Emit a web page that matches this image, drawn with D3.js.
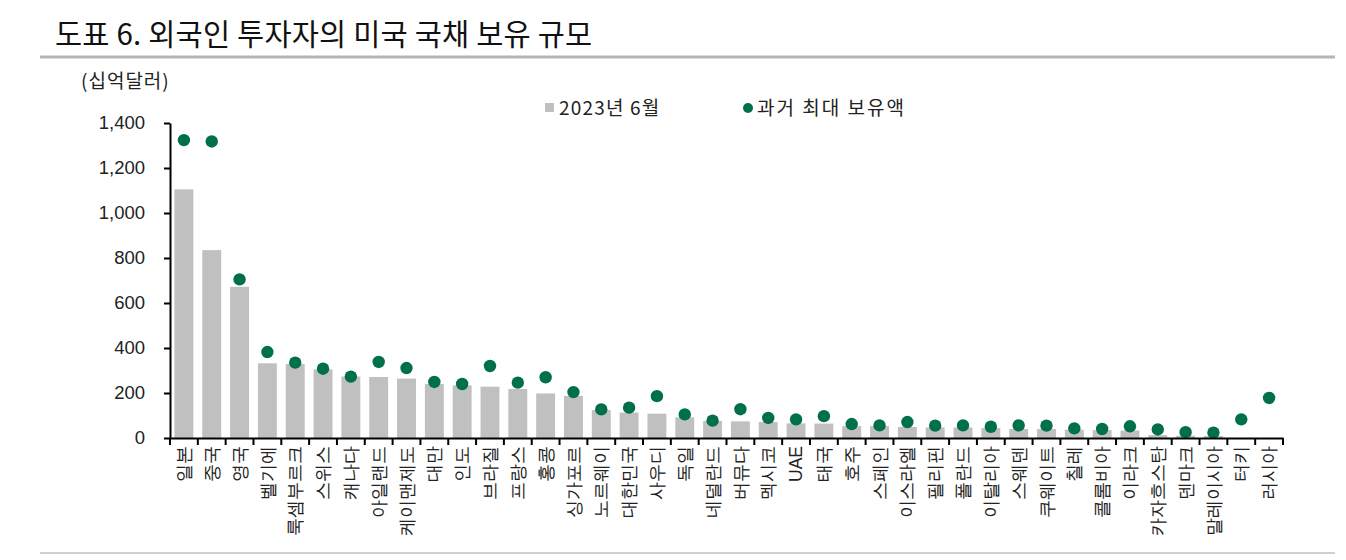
<!DOCTYPE html>
<html>
<head>
<meta charset="utf-8">
<script src="https://cdn.jsdelivr.net/npm/d3@7/dist/d3.min.js"></script>
<style>
  html, body { margin: 0; padding: 0; background: #fff; }
  svg { display: block; font-family: "Noto Sans CJK KR", "Noto Sans", sans-serif; }
</style>
</head>
<body>
<svg id="chart" width="1346" height="560"></svg>
<script>
const categories = ["일본","중국","영국","벨기에","룩셈부르크","스위스","캐나다","아일랜드","케이맨제도","대만","인도","브라질","프랑스","홍콩","싱가포르","노르웨이","대한민국","사우디","독일","네덜란드","버뮤다","멕시코","UAE","태국","호주","스페인","이스라엘","필리핀","폴란드","이탈리아","스웨덴","쿠웨이트","칠레","콜롬비아","이라크","카자흐스탄","덴마크","말레이시아","터키","러시아"];
const holdings2023 = [1105,835,672,332,329,305,273,271,264,240,234,228,218,198,187,124,113,108,92,76,74,71,65,64,53,53,49,47,47,44,40,40,37,35,33,13,10,9,0,0];
const peakHoldings = [1324,1318,705,382,335,308,273,338,311,249,240,320,246,270,204,127,135,186,105,77,128,89,83,97,62,56,71,55,56,50,56,55,43,40,52,38,26,24,83,178];
const yTicks = [0,200,400,600,800,1000,1200,1400];
const titleText = "도표 6. 외국인 투자자의 미국 국채 보유 규모";
const unitText = "(십억달러)";
const legendLabels = ["2023년 6월", "과거 최대 보유액"];

const svg = d3.select("#chart");
const plotLeft = 170, plotRight = 1283, plotTop = 123, plotBottom = 438;
const barColor = "#c0c0c0", dotColor = "#00704a";

const x = d3.scaleBand().domain(categories).range([plotLeft, plotRight]).paddingInner(0.32).paddingOuter(0.16);
const y = d3.scaleLinear().domain([0, 1400]).range([plotBottom, plotTop]);

// Title and rules
svg.append("text").attr("x", 55).attr("y", 45).attr("font-size", 29.5).attr("font-weight", 400)
  .attr("letter-spacing", 0.2).attr("fill", "#111").text(titleText);
svg.append("line").attr("x1", 40).attr("x2", 1335).attr("y1", 57).attr("y2", 57)
  .attr("stroke", "#b5b5b5").attr("stroke-width", 3);
svg.append("line").attr("x1", 40).attr("x2", 1335).attr("y1", 553).attr("y2", 553)
  .attr("stroke", "#cfcfcf").attr("stroke-width", 2);

// Unit
svg.append("text").attr("x", 81).attr("y", 88).attr("font-size", 19).attr("letter-spacing", 1)
  .attr("fill", "#222").text(unitText);

// Bars
svg.append("g").selectAll("rect").data(categories).join("rect")
  .attr("x", d => x(d)).attr("width", x.bandwidth())
  .attr("y", (d, i) => y(holdings2023[i])).attr("height", (d, i) => y(0) - y(holdings2023[i]))
  .attr("fill", barColor);

// Dots
svg.append("g").selectAll("circle").data(categories).join("circle")
  .attr("cx", d => x(d) + x.bandwidth() / 2).attr("cy", (d, i) => y(peakHoldings[i]))
  .attr("r", 6.2).attr("fill", dotColor);

// Y axis
const yAxis = svg.append("g").attr("transform", `translate(${plotLeft},0)`)
  .call(d3.axisLeft(y).tickValues(yTicks).tickFormat(d3.format(",")).tickSize(6).tickSizeOuter(0));
yAxis.select(".domain").attr("stroke", "#000").attr("stroke-width", 2);
yAxis.selectAll(".tick line").attr("stroke", "#000").attr("stroke-width", 2);
yAxis.selectAll(".tick text").attr("font-size", 18.5).attr("fill", "#222").attr("x", -25)
  .attr("font-family", "Liberation Sans, Arial, sans-serif");

// X axis
const xAxis = svg.append("g").attr("transform", `translate(0,${plotBottom})`)
  .call(d3.axisBottom(x).tickSize(0).tickSizeOuter(0));
xAxis.select(".domain").attr("stroke", "#000").attr("stroke-width", 2);
xAxis.selectAll(".tick text")
  .attr("font-size", 17.5).attr("fill", "#222")
  .attr("transform", "rotate(-90)")
  .attr("text-anchor", "end")
  .attr("x", -8).attr("y", 0).attr("dy", "0.35em");
// boundary ticks
const step = x.step(), po = x.paddingOuter() * step;
const bounds = categories.map(d => x(d) - po).concat([x(categories[categories.length - 1]) - po + step]);
svg.append("g").selectAll("line").data(bounds).join("line")
  .attr("x1", d => d).attr("x2", d => d).attr("y1", plotBottom).attr("y2", plotBottom + 7)
  .attr("stroke", "#000").attr("stroke-width", 2);

// Legend
const lg = svg.append("g");
lg.append("rect").attr("x", 545).attr("y", 103).attr("width", 9).attr("height", 9).attr("fill", barColor);
lg.append("text").attr("x", 559).attr("y", 115).attr("font-size", 19).attr("letter-spacing", 1.2)
  .attr("fill", "#222").text(legendLabels[0]);
lg.append("circle").attr("cx", 748).attr("cy", 108).attr("r", 5).attr("fill", dotColor);
lg.append("text").attr("x", 757).attr("y", 115).attr("font-size", 19).attr("letter-spacing", 2)
  .attr("fill", "#222").text(legendLabels[1]);
</script>
</body>
</html>
